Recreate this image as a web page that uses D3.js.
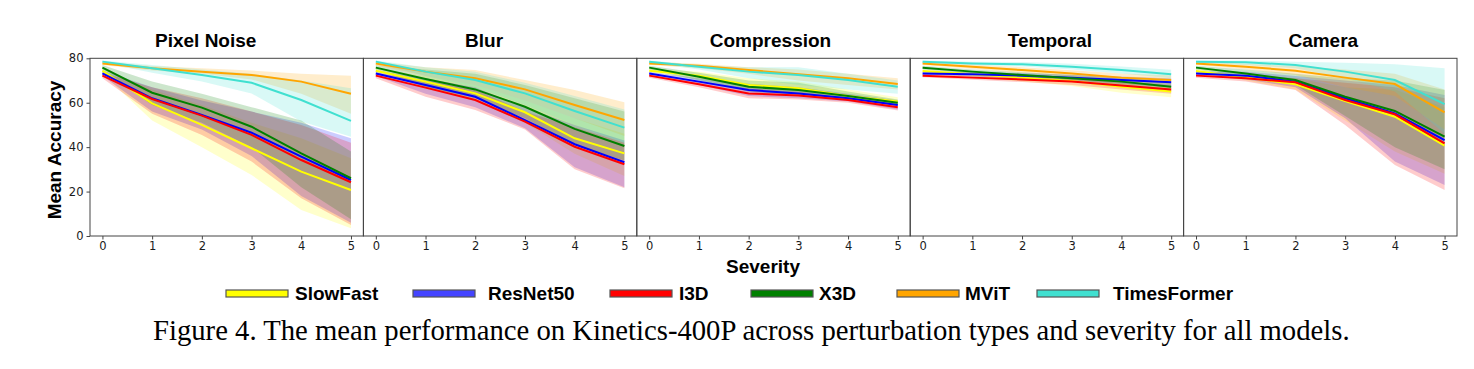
<!DOCTYPE html>
<html>
<head>
<meta charset="utf-8">
<script src="https://cdn.jsdelivr.net/npm/d3@7"></script>
<style>
  body { margin: 0; background: #fff; }
  svg { display: block; }
</style>
</head>
<body>
<div id="chart"></div>
<script>
const categories = ["Pixel Noise", "Blur", "Compression", "Temporal", "Camera"];
const models = ["SlowFast", "ResNet50", "I3D", "X3D", "MViT", "TimesFormer"];
const severity = [0, 1, 2, 3, 4, 5];
const yTicks = [0, 20, 40, 60, 80];

// rows follow the models order
const pixelNoiseMean = [
    [74.3, 59.7, 50.0, 39.5, 29.0, 20.7],
    [73.2, 62.0, 54.5, 46.5, 35.7, 25.2],
    [72.2, 61.7, 54.2, 45.5, 34.2, 24.2],
    [75.8, 64.5, 57.8, 49.2, 37.2, 26.0],
    [77.7, 75.5, 74.0, 72.5, 69.5, 64.0],
    [78.5, 75.5, 72.5, 69.0, 61.2, 51.8]
];
const pixelNoiseLow = [
    [73.0, 52.0, 40.0, 27.5, 11.7, 3.5],
    [72.0, 56.0, 48.0, 36.0, 18.0, 6.0],
    [71.0, 55.0, 45.5, 33.5, 17.0, 5.0],
    [74.5, 59.0, 51.0, 40.0, 22.0, 7.5],
    [77.0, 74.5, 73.0, 70.5, 64.0, 55.0],
    [78.0, 73.5, 69.5, 64.2, 51.5, 44.7]
];
const pixelNoiseHigh = [
    [75.5, 66.0, 59.0, 51.0, 44.0, 35.0],
    [74.5, 67.0, 61.0, 56.0, 51.0, 44.0],
    [73.5, 67.0, 62.0, 56.0, 50.0, 42.0],
    [77.0, 69.5, 64.0, 58.0, 52.0, 38.0],
    [78.5, 76.5, 75.5, 74.5, 73.0, 72.2],
    [79.0, 77.0, 75.0, 73.0, 70.0, 66.5]
];

const blurMean = [
    [74.4, 69.5, 64.2, 55.7, 44.0, 37.2],
    [73.2, 68.0, 62.7, 52.2, 41.3, 33.2],
    [72.2, 66.8, 61.2, 51.5, 40.2, 32.3],
    [75.8, 70.7, 66.0, 58.2, 48.2, 40.5],
    [77.7, 74.0, 71.0, 66.0, 59.0, 52.2],
    [78.5, 74.0, 70.2, 64.2, 56.3, 48.8]
];
const blurLow = [
    [73.5, 67.0, 61.0, 51.0, 37.0, 27.0],
    [72.0, 64.0, 58.0, 48.5, 31.0, 22.0],
    [71.0, 62.7, 56.7, 48.0, 30.0, 21.5],
    [75.0, 67.0, 62.0, 53.0, 41.0, 34.0],
    [77.0, 72.0, 68.0, 61.0, 53.0, 45.0],
    [78.0, 72.0, 67.0, 59.0, 50.0, 42.0]
];
const blurHigh = [
    [75.5, 72.0, 68.0, 61.0, 53.0, 46.0],
    [74.5, 71.0, 67.0, 58.0, 50.0, 43.0],
    [73.5, 70.0, 66.0, 56.0, 49.0, 42.0],
    [77.0, 75.0, 73.0, 68.0, 62.0, 56.0],
    [78.5, 76.0, 74.7, 70.2, 65.7, 60.2],
    [79.0, 76.0, 74.0, 69.0, 63.0, 57.0]
];

const compressionMean = [
    [74.4, 72.2, 68.0, 66.5, 63.0, 60.5],
    [73.2, 69.5, 65.7, 64.2, 62.0, 59.0],
    [72.2, 68.3, 64.2, 63.2, 61.2, 58.0],
    [75.8, 71.7, 67.2, 65.7, 63.0, 60.0],
    [77.7, 76.7, 74.7, 72.8, 71.0, 68.4],
    [78.5, 76.2, 74.0, 72.5, 70.2, 67.2]
];
const compressionLow = [
    [73.5, 70.5, 65.5, 64.0, 61.0, 58.5],
    [72.3, 68.0, 63.0, 62.0, 60.5, 57.0],
    [71.3, 67.0, 62.0, 61.5, 60.0, 56.5],
    [75.0, 70.0, 65.0, 63.5, 61.5, 59.0],
    [77.0, 75.5, 73.0, 70.0, 68.0, 66.0],
    [78.0, 75.0, 71.0, 68.0, 66.0, 64.0]
];
const compressionHigh = [
    [75.3, 74.0, 71.0, 69.5, 66.0, 62.5],
    [74.0, 71.0, 68.5, 67.0, 64.0, 61.0],
    [73.0, 69.5, 66.5, 65.0, 62.5, 59.5],
    [76.7, 73.5, 70.0, 69.0, 65.0, 61.5],
    [78.4, 77.5, 76.0, 75.0, 73.0, 71.0],
    [79.0, 77.0, 76.0, 76.0, 73.0, 70.0]
];

const temporalMean = [
    [74.3, 72.8, 71.3, 69.8, 67.2, 65.0],
    [73.2, 72.8, 72.2, 71.3, 70.2, 69.2],
    [72.2, 71.3, 70.5, 69.5, 67.7, 66.0],
    [75.8, 74.0, 72.5, 71.0, 69.5, 67.2],
    [77.7, 76.2, 74.7, 73.2, 71.3, 70.2],
    [78.5, 77.7, 77.3, 76.2, 74.7, 72.8]
];
const temporalLow = [
    [73.5, 71.5, 69.5, 67.5, 64.5, 62.5],
    [72.5, 71.8, 71.0, 70.0, 68.5, 67.0],
    [71.5, 70.3, 69.3, 68.0, 66.0, 64.0],
    [75.0, 73.0, 71.3, 69.5, 67.5, 65.0],
    [77.0, 75.2, 73.5, 71.8, 69.5, 68.0],
    [78.0, 77.0, 76.3, 75.0, 73.2, 71.0]
];
const temporalHigh = [
    [75.0, 74.0, 73.0, 72.0, 70.0, 67.5],
    [74.0, 73.8, 73.4, 72.6, 71.8, 71.0],
    [73.0, 72.3, 71.7, 71.0, 69.5, 68.0],
    [76.6, 75.0, 73.7, 72.5, 71.5, 69.5],
    [78.4, 77.2, 76.0, 74.6, 73.2, 72.4],
    [79.0, 78.5, 78.3, 77.5, 76.3, 74.8]
];

const cameraMean = [
    [74.3, 71.4, 68.3, 60.8, 53.7, 40.7],
    [73.2, 72.2, 69.5, 62.0, 55.2, 43.2],
    [72.2, 71.0, 69.2, 61.2, 54.8, 41.7],
    [75.8, 73.2, 70.2, 62.7, 56.3, 44.7],
    [77.7, 76.2, 74.4, 71.3, 68.4, 55.7],
    [78.5, 78.2, 77.0, 74.0, 70.2, 59.4]
];
const cameraLow = [
    [73.5, 70.0, 66.0, 52.0, 38.0, 28.0],
    [72.3, 70.5, 67.0, 53.0, 33.5, 23.0],
    [71.3, 69.5, 65.7, 50.0, 32.0, 20.7],
    [75.0, 71.5, 68.0, 54.0, 40.0, 30.0],
    [77.0, 75.0, 72.5, 67.0, 63.0, 48.0],
    [78.0, 77.0, 75.5, 71.0, 65.0, 46.0]
];
const cameraHigh = [
    [75.3, 73.0, 71.0, 67.0, 66.0, 58.0],
    [74.0, 74.0, 72.0, 70.0, 68.0, 63.5],
    [73.0, 72.5, 71.0, 69.0, 67.0, 62.0],
    [76.7, 75.0, 73.0, 71.0, 70.0, 65.7],
    [78.4, 77.5, 76.5, 75.0, 73.0, 66.0],
    [79.0, 79.0, 78.5, 78.0, 77.3, 75.5]
];

const colors = ["#ffff00", "#0000ff", "#ff0000", "#008000", "#ffa500", "#40e0d0"];
const legendColors = ["#ffff00", "#4444ff", "#ff0000", "#008000", "#ffa500", "#40e0d0"];

const panels = [
    {name: categories[0], mean: pixelNoiseMean, low: pixelNoiseLow, high: pixelNoiseHigh},
    {name: categories[1], mean: blurMean, low: blurLow, high: blurHigh},
    {name: categories[2], mean: compressionMean, low: compressionLow, high: compressionHigh},
    {name: categories[3], mean: temporalMean, low: temporalLow, high: temporalHigh},
    {name: categories[4], mean: cameraMean, low: cameraLow, high: cameraHigh}
];

const width = 1474, height = 369;
const left0 = 90, panelW = 273.4, plotTop = 58.3, plotBottom = 236;
const titleShift = [-21, -16, -3, 3, 3];
const legendX = [226, 413, 610, 751, 897, 1037];
const labelX = [295, 488, 679, 819, 965, 1113];
const sans = "'Liberation Sans', Arial, sans-serif";
const tickFont = "11.5px 'DejaVu Sans', sans-serif";

const svg = d3.select("#chart").append("svg")
    .attr("width", width)
    .attr("height", height);

const y = d3.scaleLinear().domain([0, 80]).range([plotBottom, plotTop]);

panels.forEach((p, i) => {
    const x0 = left0 + i * panelW;
    const x = d3.scaleLinear().domain([-0.25, 5.25]).range([x0, x0 + panelW]);
    const g = svg.append("g");

    const area = d3.area()
        .x((d, j) => x(severity[j]))
        .y0(d => y(d[0]))
        .y1(d => y(d[1]));
    const line = d3.line()
        .x((d, j) => x(severity[j]))
        .y(d => y(d));

    g.append("g")
        .selectAll("path")
        .data(models.map((m, k) => p.low[k].map((v, j) => [v, p.high[k][j]])))
        .join("path")
        .attr("d", area)
        .attr("fill", (d, k) => colors[k])
        .attr("fill-opacity", 0.2);

    g.append("g")
        .selectAll("path")
        .data(p.mean)
        .join("path")
        .attr("d", line)
        .attr("fill", "none")
        .attr("stroke", (d, k) => colors[k])
        .attr("stroke-width", 2);

    const xAxis = g.append("g")
        .attr("transform", `translate(0,${plotBottom})`)
        .call(d3.axisBottom(x).tickValues(severity).tickFormat(d3.format("d"))
            .tickSize(3.5).tickPadding(2));
    xAxis.select(".domain").remove();
    xAxis.selectAll("line").attr("stroke", "#444");
    xAxis.selectAll("text")
        .attr("fill", "#1a1a1a")
        .style("font", tickFont);

    if (i == 0) {
        const yAxis = g.append("g")
            .attr("transform", `translate(${x0},0)`)
            .call(d3.axisLeft(y).tickValues(yTicks).tickFormat(d3.format("d"))
                .tickSize(3.5).tickPadding(3));
        yAxis.select(".domain").remove();
        yAxis.selectAll("line").attr("stroke", "#444");
        yAxis.selectAll("text")
            .attr("fill", "#1a1a1a")
            .style("font", tickFont);
    }

    g.append("rect")
        .attr("x", x0)
        .attr("y", plotTop)
        .attr("width", panelW)
        .attr("height", plotBottom - plotTop)
        .attr("fill", "none")
        .attr("stroke", "#444")
        .attr("stroke-width", 1);

    g.append("text")
        .attr("x", x0 + panelW / 2 + titleShift[i])
        .attr("y", 46.7)
        .attr("text-anchor", "middle")
        .style("font", `bold 19px ${sans}`)
        .text(p.name);
});

svg.append("text")
    .attr("transform", "translate(61,150) rotate(-90)")
    .attr("text-anchor", "middle")
    .style("font", `bold 19px ${sans}`)
    .text("Mean Accuracy");

svg.append("text")
    .attr("x", 763)
    .attr("y", 272.7)
    .attr("text-anchor", "middle")
    .style("font", `bold 19px ${sans}`)
    .text("Severity");

const legend = svg.append("g");
legend.selectAll("rect")
    .data(models)
    .join("rect")
    .attr("x", (d, k) => legendX[k])
    .attr("y", 290)
    .attr("width", 62)
    .attr("height", 7)
    .attr("fill", (d, k) => legendColors[k])
    .attr("stroke", "#555")
    .attr("stroke-width", 1.2);
legend.selectAll("text")
    .data(models)
    .join("text")
    .attr("x", (d, k) => labelX[k])
    .attr("y", 299.5)
    .style("font", `bold 19px ${sans}`)
    .text(d => d);

const caption = svg.append("text")
    .attr("x", 751.3)
    .attr("y", 340)
    .attr("text-anchor", "middle")
    .style("font-family", "'Liberation Serif', 'Times New Roman', serif")
    .style("font-size", "26px")
    .text("Figure 4. The mean performance on Kinetics-400P across perturbation types and severity for all models.");
const cw = caption.node().getComputedTextLength();
caption.style("font-size", (26 * 1197 / cw).toFixed(2) + "px");
</script>
</body>
</html>
